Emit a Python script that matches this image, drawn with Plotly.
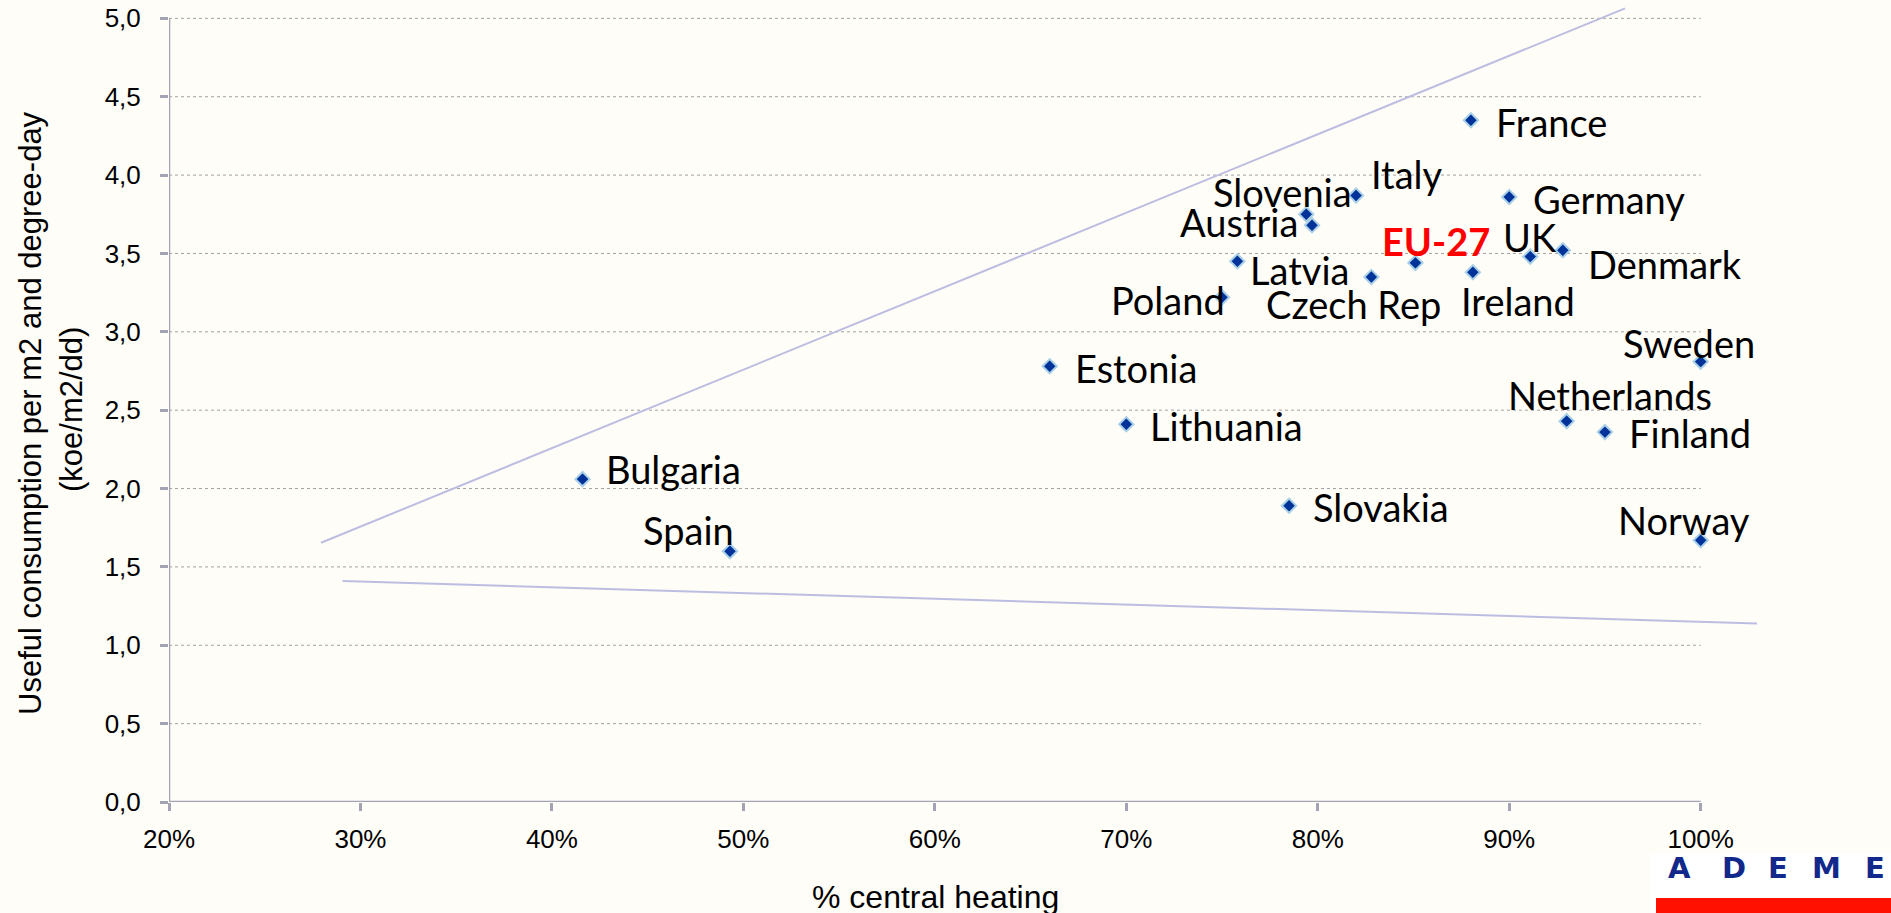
import plotly.graph_objects as go

# ---------------- data ----------------
countries = ["France", "Italy", "Slovenia", "Austria", "Germany", "UK", "Denmark",
             "EU-27", "Ireland", "Czech Rep", "Latvia", "Poland", "Estonia",
             "Lithuania", "Bulgaria", "Spain", "Slovakia", "Sweden", "Netherlands",
             "Finland", "Norway"]
central_heating_pct = [88.0, 82.0, 79.4, 79.7, 90.0, 91.1, 92.8,
                       85.1, 88.1, 82.8, 75.8, 75.0, 66.0,
                       70.0, 41.6, 49.3, 78.5, 100.0, 93.0,
                       95.0, 100.0]
useful_consumption = [4.35, 3.87, 3.75, 3.68, 3.86, 3.48, 3.52,
                      3.44, 3.38, 3.35, 3.45, 3.22, 2.78,
                      2.41, 2.06, 1.60, 1.89, 2.81, 2.43,
                      2.36, 1.67]

upper_line_x = [27.94, 96.05]
upper_line_y = [1.654, 5.064]
lower_line_x = [29.07, 102.94]
lower_line_y = [1.410, 1.139]

x_tickvals = [20, 30, 40, 50, 60, 70, 80, 90, 100]
x_ticktext = ["20%", "30%", "40%", "50%", "60%", "70%", "80%", "90%", "100%"]
y_tickvals = [0, 0.5, 1, 1.5, 2, 2.5, 3, 3.5, 4, 4.5, 5]
y_ticktext = ["0,0", "0,5", "1,0", "1,5", "2,0", "2,5", "3,0", "3,5", "4,0", "4,5", "5,0"]

x_title = "% central heating"
y_title_lines = ["Useful consumption per m2 and degree-day", "(koe/m2/dd)"]

# ---------------- layout geometry / style ----------------
W, H = 1891, 913
PL, PR, PT, PB = 169, 1777, 3, 802          # plot area in pixels
PX_PER_X = 19.146                            # pixels per percentage point
PX_PER_Y = 156.73                            # pixels per unit
x_range = [20, 20 + (PR - PL) / PX_PER_X]
y_range = [0, (PB - PT) / PX_PER_Y]

def paper_x(px):
    return (px - PL) / (PR - PL)

def paper_y(py):
    return (PB - py) / (PB - PT)

BG = "#FEFDF7"
AXIS_COLOR = "#A3A3B3"
GRID_COLOR = "#A0A0A0"
TREND_COLOR = "#BDBDE2"
LABEL_FONT = "Lato, Carlito, 'Open Sans', sans-serif"
AXIS_FONT = "'Liberation Sans', Arial, sans-serif"

# label placement: (xanchor, xshift px, yshift px)
label_pos = {
    "France": ("left", 23, -2), "Italy": ("left", 13, 21), "Slovenia": ("right", 48, 22),
    "Austria": ("right", -12, 3), "Germany": ("left", 22, -2), "UK": ("center", 0, 20),
    "Denmark": ("left", 23, -14), "EU-27": ("center", 21, 22), "Ireland": ("left", -14, -29),
    "Czech Rep": ("center", -18, -27), "Latvia": ("left", 11, -9), "Poland": ("right", 5, -3),
    "Estonia": ("left", 23, -2), "Lithuania": ("left", 22, -2), "Bulgaria": ("left", 21, 10),
    "Spain": ("right", 6, 21), "Slovakia": ("left", 22, -1), "Sweden": ("center", -12, 19),
    "Netherlands": ("center", 43, 26), "Finland": ("left", 22, -1), "Norway": ("center", -17, 20),
}

fig = go.Figure()

# envelope lines
fig.add_trace(go.Scatter(x=upper_line_x, y=upper_line_y, mode="lines",
                         line=dict(color=TREND_COLOR, width=2), hoverinfo="skip",
                         showlegend=False))
fig.add_trace(go.Scatter(x=lower_line_x, y=lower_line_y, mode="lines",
                         line=dict(color=TREND_COLOR, width=2), hoverinfo="skip",
                         showlegend=False))

# points
fig.add_trace(go.Scatter(
    x=central_heating_pct, y=useful_consumption, mode="markers", text=countries,
    marker=dict(symbol="diamond", size=11, color="#003399",
                line=dict(color="#A9D0E6", width=2)),
    showlegend=False, cliponaxis=False))

annotations = []
for name, xv, yv in zip(countries, central_heating_pct, useful_consumption):
    xa, xs, ys = label_pos[name]
    is_eu = name == "EU-27"
    annotations.append(dict(
        x=xv, y=yv, xref="x", yref="y", text=name, showarrow=False,
        xanchor=xa, yanchor="middle", xshift=xs, yshift=ys,
        font=dict(family=LABEL_FONT, size=38, color="#FF0000" if is_eu else "#000000",
                  weight="bold" if is_eu else "normal")))

# axis titles
annotations.append(dict(
    x=paper_x(935.5), y=paper_y(917), xref="paper", yref="paper", text=x_title,
    showarrow=False, xanchor="center", yanchor="bottom",
    font=dict(family=AXIS_FONT, size=32, color="#000000")))
annotations.append(dict(
    x=paper_x(31), y=paper_y(413), xref="paper", yref="paper", text=y_title_lines[0],
    showarrow=False, xanchor="center", yanchor="middle", textangle=-90,
    font=dict(family=AXIS_FONT, size=31, color="#000000")))
annotations.append(dict(
    x=paper_x(71), y=paper_y(410), xref="paper", yref="paper", text=y_title_lines[1],
    showarrow=False, xanchor="center", yanchor="middle", textangle=-90,
    font=dict(family=AXIS_FONT, size=31, color="#000000")))

# ADEME logo (text)
logo_letters = ["A", "D", "E", "M", "E"]
logo_centers = [1679.5, 1733.5, 1777.5, 1826.5, 1875]
for letter, cx in zip(logo_letters, logo_centers):
    annotations.append(dict(
        x=paper_x(cx), y=paper_y(868), xref="paper", yref="paper", text=letter,
        showarrow=False, xanchor="center", yanchor="middle",
        font=dict(family="'DejaVu Sans', sans-serif", size=29, color="#12298B",
                  weight="bold")))

shapes = []
# gridlines (stop at 100%)
for yv in y_tickvals[1:]:
    shapes.append(dict(type="line", xref="x", yref="y", x0=x_tickvals[0], x1=x_tickvals[-1],
                       y0=yv, y1=yv, layer="below",
                       line=dict(color=GRID_COLOR, width=1, dash="dot")))
# axis lines
shapes.append(dict(type="line", xref="x", yref="y", x0=x_tickvals[0], x1=x_tickvals[-1],
                   y0=0, y1=0, layer="below", line=dict(color=AXIS_COLOR, width=2.5)))
shapes.append(dict(type="line", xref="x", yref="y", x0=x_tickvals[0], x1=x_tickvals[0],
                   y0=0, y1=y_tickvals[-1], layer="below", line=dict(color=AXIS_COLOR, width=2.5)))
# logo boxes
shapes.append(dict(type="rect", xref="paper", yref="paper", x0=paper_x(1651), x1=paper_x(1891),
                   y0=paper_y(913), y1=paper_y(854), layer="above",
                   fillcolor="#FFFFFF", line=dict(width=0)))
shapes.append(dict(type="rect", xref="paper", yref="paper", x0=paper_x(1656), x1=paper_x(1891),
                   y0=paper_y(913), y1=paper_y(898), layer="above",
                   fillcolor="#FF1000", line=dict(width=0)))

fig.update_layout(
    width=W, height=H, autosize=False,
    margin=dict(l=PL, r=W - PR, t=PT, b=H - PB, pad=0, autoexpand=False),
    paper_bgcolor=BG, plot_bgcolor=BG,
    showlegend=False,
    annotations=annotations, shapes=shapes,
    xaxis=dict(range=x_range, tickvals=x_tickvals, ticktext=x_ticktext,
               showgrid=False, zeroline=False, showline=False,
               ticks="outside", ticklen=8, tickwidth=2.5, tickcolor=AXIS_COLOR,
               tickfont=dict(family=AXIS_FONT, size=26, color="#000000"),
               ticklabelstandoff=6, fixedrange=True),
    yaxis=dict(range=y_range, tickvals=y_tickvals, ticktext=y_ticktext,
               showgrid=False, zeroline=False, showline=False,
               ticks="outside", ticklen=8, tickwidth=2.5, tickcolor=AXIS_COLOR,
               tickfont=dict(family=AXIS_FONT, size=26, color="#000000"),
               ticklabelstandoff=14, fixedrange=True),
)

fig.write_html("out.html", config={"displayModeBar": False},
               post_script="document.body.style.margin='0px';document.body.style.overflow='hidden';")
